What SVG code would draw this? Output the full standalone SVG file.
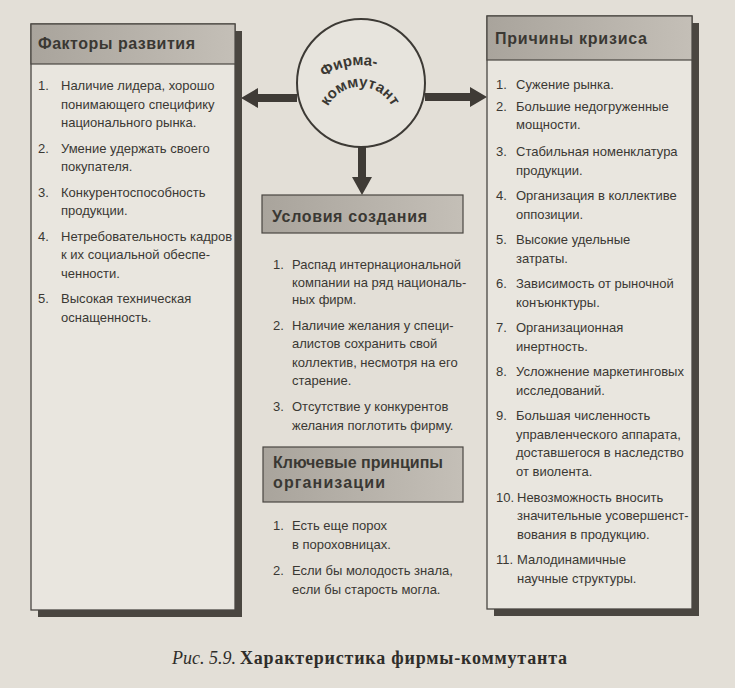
<svg xmlns="http://www.w3.org/2000/svg" width="735" height="688" viewBox="0 0 735 688">
<defs>
<linearGradient id="hg" x1="0" y1="0" x2="1" y2="0">
<stop offset="0" stop-color="#a9a49c"/>
<stop offset="1" stop-color="#c4bfb7"/>
</linearGradient>
<path id="arcTop" d="M 302 123 A 58 58 0 0 1 418 123"/>
<path id="arcBot" d="M 324 123 A 36 36 0 0 1 396 123"/>
<style>
.t { font-family: "Liberation Sans", Arial, sans-serif; font-size: 13px; fill: #3a3833; }
.h { font-family: "Liberation Sans", Arial, sans-serif; font-size: 16px; font-weight: bold; fill: #3a3833; }
.c { font-family: "Liberation Sans", Arial, sans-serif; font-size: 15px; font-weight: bold; fill: #3a3833; }
.box { fill: #e9e6df; stroke: #4a4742; stroke-width: 1.3; }
.shadow { fill: #4a4640; }
.hdr { fill: url(#hg); stroke: #4a4742; stroke-width: 1.2; }
.arrow { fill: #3f3b36; }
.cap { font-family: "Liberation Serif", "Times New Roman", serif; font-size: 18px; fill: #2f2d2a; }
</style>
</defs>
<rect x="0" y="0" width="735" height="688" fill="#e3dfd7"/>

<g id="connectors">
<polygon class="arrow" points="297,94 258,94 258,88 241,98 258,108 258,102 297,102"/>
<polygon class="arrow" points="425,93 470,93 470,87 487,97 470,107 470,101 425,101"/>
<polygon class="arrow" points="358,147 358,177 352,177 362,195 372,177 366,177 366,147"/>
</g>

<g id="node-firm">
<circle cx="361" cy="83" r="64" fill="#e7e4dd" stroke="#3d3a35" stroke-width="2"/>
<text class="c"><textPath href="#arcTop" startOffset="44%" text-anchor="middle">Фирма-</textPath></text>
<text class="c"><textPath href="#arcBot" startOffset="50%" text-anchor="middle">коммутант</textPath></text>
</g>

<g id="node-factors">
<rect class="shadow" x="38" y="31" width="204" height="586"/>
<rect class="box" x="31" y="24" width="204" height="586"/>
<rect class="hdr" x="31" y="24" width="204" height="40"/>
<text class="h" x="38" y="49" textLength="157" lengthAdjust="spacing">Факторы развития</text>
<text class="t" x="38" y="90">1.</text>
<text class="t" x="61" y="90">Наличие лидера, хорошо</text>
<text class="t" x="61" y="108.5">понимающего специфику</text>
<text class="t" x="61" y="127">национального рынка.</text>
<text class="t" x="38" y="152.5">2.</text>
<text class="t" x="61" y="152.5">Умение удержать своего</text>
<text class="t" x="61" y="171">покупателя.</text>
<text class="t" x="38" y="196.5">3.</text>
<text class="t" x="61" y="196.5">Конкурентоспособность</text>
<text class="t" x="61" y="215">продукции.</text>
<text class="t" x="38" y="240.5">4.</text>
<text class="t" x="61" y="240.5">Нетребовательность кадров</text>
<text class="t" x="61" y="259">к их социальной обеспе-</text>
<text class="t" x="61" y="277.5">ченности.</text>
<text class="t" x="38" y="303">5.</text>
<text class="t" x="61" y="303">Высокая техническая</text>
<text class="t" x="61" y="321.5">оснащенность.</text>
</g>

<g id="node-reasons">
<rect class="shadow" x="494" y="23" width="205" height="593"/>
<rect class="box" x="487" y="16" width="205" height="593"/>
<rect class="hdr" x="487" y="16" width="205" height="44"/>
<text class="h" x="495" y="44" textLength="152" lengthAdjust="spacing">Причины кризиса</text>
<text class="t" x="496" y="89">1.</text>
<text class="t" x="516" y="89">Сужение рынка.</text>
<text class="t" x="496" y="110.5">2.</text>
<text class="t" x="516" y="110.5">Большие недогруженные</text>
<text class="t" x="516" y="129">мощности.</text>
<text class="t" x="496" y="156">3.</text>
<text class="t" x="516" y="156">Стабильная номенклатура</text>
<text class="t" x="516" y="174.5">продукции.</text>
<text class="t" x="496" y="200">4.</text>
<text class="t" x="516" y="200">Организация в коллективе</text>
<text class="t" x="516" y="218.5">оппозиции.</text>
<text class="t" x="496" y="244">5.</text>
<text class="t" x="516" y="244">Высокие удельные</text>
<text class="t" x="516" y="262.5">затраты.</text>
<text class="t" x="496" y="288">6.</text>
<text class="t" x="516" y="288">Зависимость от рыночной</text>
<text class="t" x="516" y="306.5">конъюнктуры.</text>
<text class="t" x="496" y="332">7.</text>
<text class="t" x="516" y="332">Организационная</text>
<text class="t" x="516" y="350.5">инертность.</text>
<text class="t" x="496" y="376">8.</text>
<text class="t" x="516" y="376">Усложнение маркетинговых</text>
<text class="t" x="516" y="394.5">исследований.</text>
<text class="t" x="496" y="420">9.</text>
<text class="t" x="516" y="420">Большая численность</text>
<text class="t" x="516" y="438.5">управленческого аппарата,</text>
<text class="t" x="516" y="457">доставшегося в наследство</text>
<text class="t" x="516" y="475.5">от виолента.</text>
<text class="t" x="496" y="501.5">10.</text>
<text class="t" x="517" y="501.5">Невозможность вносить</text>
<text class="t" x="517" y="520">значительные усовершенст-</text>
<text class="t" x="517" y="538.5">вования в продукцию.</text>
<text class="t" x="496" y="564">11.</text>
<text class="t" x="517" y="564">Малодинамичные</text>
<text class="t" x="517" y="582.5">научные структуры.</text>
</g>

<g id="node-conditions">
<rect class="hdr" x="262" y="195" width="201" height="38"/>
<text class="h" x="272" y="222" textLength="155" lengthAdjust="spacing">Условия создания</text>
<text class="t" x="273" y="269">1.</text>
<text class="t" x="292" y="269">Распад интернациональной</text>
<text class="t" x="292" y="286.5">компании на ряд националь-</text>
<text class="t" x="292" y="304">ных фирм.</text>
<text class="t" x="273" y="329.5">2.</text>
<text class="t" x="292" y="329.5">Наличие желания у специ-</text>
<text class="t" x="292" y="348">алистов сохранить свой</text>
<text class="t" x="292" y="366.5">коллектив, несмотря на его</text>
<text class="t" x="292" y="385">старение.</text>
<text class="t" x="273" y="411">3.</text>
<text class="t" x="292" y="411">Отсутствие у конкурентов</text>
<text class="t" x="292" y="429.5">желания поглотить фирму.</text>
</g>

<g id="node-principles">
<rect class="hdr" x="263" y="447" width="200" height="55"/>
<text class="h" x="273" y="468" textLength="170" lengthAdjust="spacing">Ключевые принципы</text>
<text class="h" x="273" y="488" textLength="112" lengthAdjust="spacing">организации</text>
<text class="t" x="273" y="530">1.</text>
<text class="t" x="292" y="530">Есть еще порох</text>
<text class="t" x="292" y="548.5">в пороховницах.</text>
<text class="t" x="273" y="575">2.</text>
<text class="t" x="292" y="575">Если бы молодость знала,</text>
<text class="t" x="292" y="593.5">если бы старость могла.</text>
</g>

<g id="caption">
<text class="cap" x="172" y="664" font-style="italic">Рис. 5.9.</text>
<text class="cap" x="240" y="664" font-weight="bold" textLength="327" lengthAdjust="spacing">Характеристика фирмы-коммутанта</text>
</g>
</svg>
